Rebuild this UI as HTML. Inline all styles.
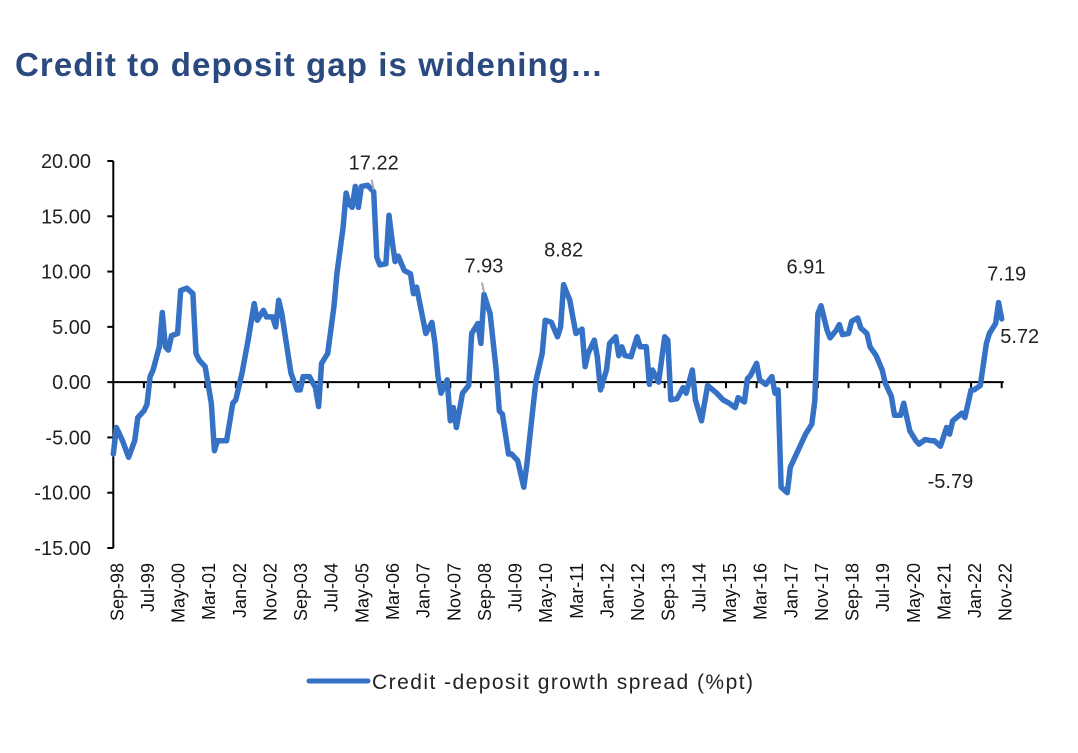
<!DOCTYPE html>
<html><head><meta charset="utf-8"><style>
body{margin:0;background:#fff;width:1078px;height:748px;overflow:hidden;font-family:"Liberation Sans",sans-serif}
</style></head><body>
<svg id="chart" width="1078" height="748" xmlns="http://www.w3.org/2000/svg">
<text x="15" y="76" font-size="33" font-weight="bold" fill="#2A4A7F" font-family="Liberation Sans, sans-serif" textLength="588">Credit to deposit gap is widening…</text>
<g id="plot"></g>
</svg>
<script>
const months=[0,1,3,5,7,8,10,11,12,13,15,16,17,18,19,21,22,24,26,27,28,30,32,33,34,37,39,40,42,44,46,47,49,50,52,53,54,55,57,58,60,61,62,64,66,67,68,70,72,73,75,76,77,78,79,80,81,83,85,86,87,89,90,91,92,93,95,97,98,99,102,104,105,106,107,109,110,111,112,114,116,117,119,120,121,123,125,126,127,129,130,132,134,135,137,138,140,141,143,145,146,147,149,150,151,153,154,155,157,158,159,161,162,164,165,166,167,169,171,172,174,175,176,178,180,181,182,184,186,187,189,190,192,194,197,199,201,203,204,206,207,208,210,211,213,215,216,217,218,220,221,224,226,228,229,230,231,233,234,236,237,238,240,241,243,244,246,247,249,251,252,254,255,257,258,260,262,263,265,267,268,270,272,273,274,277,278,280,281,283,285,286,288,289,290];
const values=[-6.5,-4.1,-5.3,-6.8,-5.3,-3.2,-2.6,-2.0,0.5,1.1,3.2,6.3,3.2,2.9,4.2,4.4,8.3,8.5,8.0,2.6,2.0,1.4,-1.9,-6.2,-5.3,-5.3,-1.9,-1.6,0.8,3.8,7.1,5.6,6.5,5.9,5.9,5.0,7.4,6.2,2.6,0.8,-0.7,-0.7,0.5,0.5,-0.5,-2.2,1.7,2.6,6.8,9.8,14.0,17.1,16.1,15.8,17.7,15.8,17.7,17.8,17.22,11.3,10.6,10.7,15.1,12.8,10.9,11.4,10.1,9.8,8.0,8.6,4.4,5.4,3.5,0.5,-1.0,0.2,-3.5,-2.3,-4.1,-1.0,-0.3,4.4,5.3,3.5,7.93,6.2,1.1,-2.6,-2.9,-6.5,-6.5,-7.1,-9.5,-7.4,-2.3,0.2,2.6,5.6,5.4,4.1,5.0,8.82,7.4,5.9,4.4,4.8,1.4,2.6,3.8,2.3,-0.7,1.1,3.5,4.1,2.4,3.2,2.4,2.3,4.1,3.2,3.2,-0.2,1.1,0.0,4.1,3.8,-1.6,-1.5,-0.5,-1.0,1.1,-1.6,-3.5,-0.3,-1.0,-1.6,-1.9,-2.3,-1.4,-1.8,0.3,0.6,1.7,0.2,-0.2,0.5,-1.0,-0.7,-9.5,-10.0,-7.7,-5.9,-4.7,-3.8,-1.7,6.2,6.91,4.7,4.0,4.7,5.2,4.3,4.4,5.5,5.8,4.9,4.4,3.2,2.4,1.1,-0.1,-1.3,-3.0,-3.0,-1.9,-4.4,-5.3,-5.6,-5.2,-5.3,-5.3,-5.79,-4.1,-4.7,-3.5,-2.8,-3.2,-0.7,-0.7,-0.3,3.5,4.4,5.3,7.19,5.72];
const tickLabels=["Sep-98","Jul-99","May-00","Mar-01","Jan-02","Nov-02","Sep-03","Jul-04","May-05","Mar-06","Jan-07","Nov-07","Sep-08","Jul-09","May-10","Mar-11","Jan-12","Nov-12","Sep-13","Jul-14","May-15","Mar-16","Jan-17","Nov-17","Sep-18","Jul-19","May-20","Mar-21","Jan-22","Nov-22"];
const yTicks=[20,15,10,5,0,-5,-10,-15];
const annValues=[17.22,7.93,8.82,6.91,-5.79,7.19,5.72];

const NS="http://www.w3.org/2000/svg";
const g=document.getElementById('plot');
const X0=113.3,X1=1001.7,MMAX=290;
const Y_TOP=161,Y_BOT=548,VMAX=20,VMIN=-15;
const xs=m=>X0+(X1-X0)*m/MMAX;
const ys=v=>Y_TOP+(VMAX-v)*(Y_BOT-Y_TOP)/(VMAX-VMIN);
function mk(t,a){const e=document.createElementNS(NS,t);for(const k in a)e.setAttribute(k,a[k]);g.appendChild(e);return e;}

let ax=mk('line',{x1:X0,y1:Y_TOP,x2:X0,y2:Y_BOT,stroke:'#000','stroke-width':2});


yTicks.forEach(v=>{
  const t=mk('line',{x1:X0-6,y1:ys(v),x2:X0,y2:ys(v),stroke:'#000','stroke-width':2});
  
  
  const l=mk('text',{x:91,y:ys(v)+7,'text-anchor':'end','font-size':20,fill:'#222'});
  l.textContent=v.toFixed(2);
  
  
});
let xa=mk('line',{x1:X0,y1:ys(0),x2:X1+2,y2:ys(0),stroke:'#000','stroke-width':2});


tickLabels.forEach((s,i)=>{
  const x=xs(i*10);
  if(i>0){const t=mk('line',{x1:x,y1:ys(0),x2:x,y2:ys(0)+6,stroke:'#000','stroke-width':2});
  
  }
  const l=mk('text',{x:0,y:0,'text-anchor':'end','font-size':18,fill:'#111',transform:`translate(${x+10},563) rotate(-90)`});
  l.textContent=s;
  
  
});
const pts=months.map((m,i)=>xs(m).toFixed(1)+','+ys(values[i]).toFixed(1)).join(' ');
const pl=mk('polyline',{points:pts,fill:'none',stroke:'#3572C6','stroke-width':5.5,'stroke-linejoin':'round','stroke-linecap':'round'});


const offs=[[0,-22,1],[0,-22,1],[0,-28,0],[-15,-32,0],[10,42,0],[8,-22,0],[18,24,0]];
annValues.forEach((val,j)=>{
  const k=values.indexOf(val);
  const x=xs(months[k]),y=ys(values[k]);
  const [dx,dy,lead]=offs[j];
  if(lead){const ln=mk('line',{x1:x,y1:y-2,x2:x-2,y2:y-12,stroke:'#aaa','stroke-width':2});
    
    }
  const t=mk('text',{x:x+dx,y:y+dy,'text-anchor':'middle','font-size':20,fill:'#222'});
  t.textContent=val.toFixed(2);
  
  
});
const lg=mk('line',{x1:309,y1:681,x2:368,y2:681,stroke:'#3572C6','stroke-width':5,'stroke-linecap':'round'});


const lt=mk('text',{x:372,y:689,'font-size':21,fill:'#222',textLength:381});
lt.textContent='Credit -deposit growth spread (%pt)';


</script>
</body></html>
